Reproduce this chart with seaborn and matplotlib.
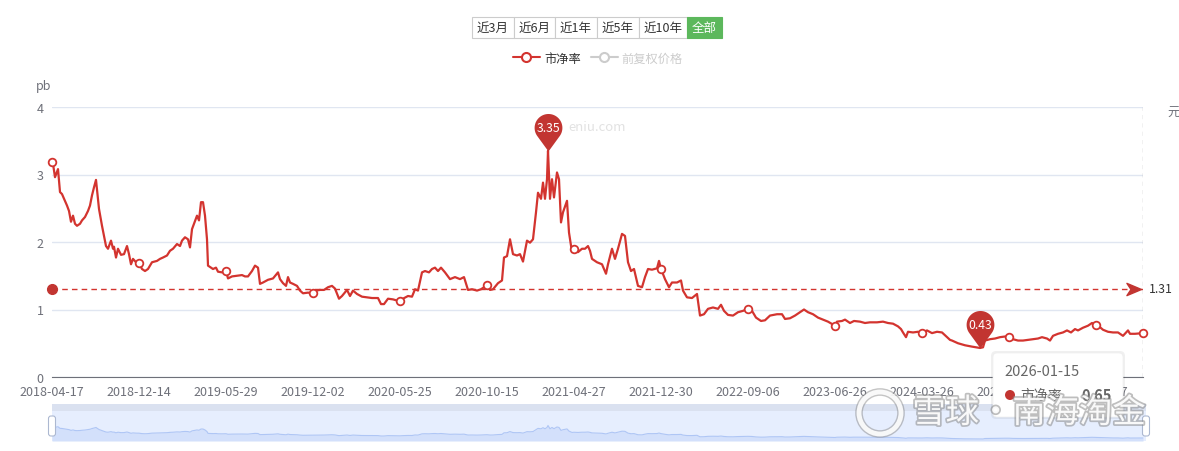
import numpy as np
import matplotlib
matplotlib.use("Agg")
import matplotlib.pyplot as plt
import matplotlib.patheffects as pe
from matplotlib.path import Path
from matplotlib.patches import FancyBboxPatch, Rectangle, Circle
from matplotlib.lines import Line2D
import seaborn as sns

# ---- data (trading-day index, PB) ----
day_idx = [0, 1, 3, 5, 6, 8, 10, 13, 15, 17, 19, 21, 23, 25, 28, 30, 33, 36, 38, 40, 42, 44, 46, 47, 50,
           52, 54, 56, 59, 61, 62, 64, 66, 69, 72, 75, 77, 79, 81, 84, 87, 90, 93, 96, 100, 105, 108, 111,
           115, 118, 121, 125, 128, 130, 133, 136, 138, 140, 142, 145, 147, 149, 151, 153, 155, 156, 159,
           161, 164, 166, 170, 174, 176, 180, 185, 190, 193, 196, 200, 203, 206, 208, 211, 216, 221, 226,
           228, 231, 234, 236, 238, 241, 245, 248, 251, 256, 261, 264, 268, 272, 276, 280, 283, 287, 290,
           295, 298, 301, 305, 310, 315, 320, 326, 329, 332, 336, 341, 348, 351, 356, 360, 363, 366, 370,
           373, 377, 380, 383, 386, 389, 393, 398, 403, 408, 412, 416, 420, 425, 429, 435, 438, 441, 446,
           450, 452, 455, 458, 461, 465, 468, 471, 475, 478, 481, 484, 486, 489, 491, 493, 495, 496, 498,
           500, 502, 505, 507, 509, 511, 515, 517, 520, 522, 526, 530, 533, 536, 538, 540, 545, 550, 554,
           556, 560, 563, 566, 570, 573, 576, 579, 582, 586, 590, 593, 596, 600, 605, 607, 609, 613, 617,
           620, 625, 629, 631, 635, 640, 645, 648, 652, 656, 661, 666, 669, 672, 676, 681, 686, 691, 696,
           700, 704, 709, 713, 718, 725, 730, 733, 738, 743, 748, 752, 756, 761, 766, 771, 776, 783, 785,
           790, 793, 798, 802, 808, 813, 818, 825, 831, 836, 841, 846, 849, 851, 854, 856, 861, 866, 870,
           875, 880, 885, 890, 895, 898, 900, 906, 913, 920, 928, 931, 933, 938, 943, 948, 953, 957, 961,
           966, 971, 976, 981, 986, 990, 995, 998, 1001, 1006, 1011, 1015, 1019, 1023, 1026, 1031, 1036,
           1040, 1044, 1047, 1051, 1056, 1061, 1066, 1071, 1076, 1078, 1083, 1091]
pb = [3.18, 3.16, 2.96, 3.04, 3.08, 2.74, 2.71, 2.61, 2.54, 2.46, 2.30, 2.39, 2.27, 2.24, 2.27, 2.32, 2.37,
      2.46, 2.54, 2.69, 2.81, 2.92, 2.64, 2.49, 2.24, 2.09, 1.94, 1.90, 2.02, 1.90, 1.93, 1.77, 1.90, 1.81,
      1.82, 1.94, 1.82, 1.67, 1.75, 1.70, 1.69, 1.60, 1.57, 1.60, 1.70, 1.72, 1.75, 1.77, 1.80, 1.87, 1.90,
      1.97, 1.94, 2.02, 2.07, 2.04, 1.92, 2.19, 2.27, 2.39, 2.32, 2.59, 2.59, 2.39, 2.04, 1.65, 1.62, 1.60,
      1.62, 1.56, 1.55, 1.57, 1.46, 1.49, 1.50, 1.51, 1.49, 1.49, 1.57, 1.65, 1.62, 1.38, 1.40, 1.44, 1.46,
      1.55, 1.45, 1.39, 1.35, 1.48, 1.40, 1.38, 1.35, 1.28, 1.24, 1.25, 1.24, 1.28, 1.29, 1.29, 1.33, 1.35,
      1.31, 1.16, 1.20, 1.29, 1.20, 1.28, 1.23, 1.19, 1.18, 1.17, 1.17, 1.08, 1.08, 1.16, 1.15, 1.12, 1.16,
      1.20, 1.19, 1.30, 1.28, 1.55, 1.57, 1.55, 1.60, 1.62, 1.57, 1.62, 1.55, 1.45, 1.48, 1.45, 1.48, 1.29,
      1.30, 1.28, 1.30, 1.36, 1.29, 1.30, 1.39, 1.43, 1.77, 1.79, 2.04, 1.82, 1.80, 1.82, 1.71, 2.02, 1.99,
      2.04, 2.44, 2.73, 2.64, 2.88, 2.64, 2.93, 3.35, 2.64, 2.93, 2.66, 3.03, 2.93, 2.29, 2.44, 2.61, 2.14,
      1.85, 1.89, 1.85, 1.90, 1.90, 1.94, 1.87, 1.75, 1.70, 1.67, 1.53, 1.67, 1.90, 1.75, 1.90, 2.12, 2.09,
      1.70, 1.57, 1.60, 1.35, 1.33, 1.48, 1.60, 1.59, 1.61, 1.72, 1.60, 1.45, 1.33, 1.40, 1.40, 1.43, 1.28,
      1.18, 1.17, 1.23, 0.91, 0.93, 1.01, 1.03, 1.01, 1.07, 0.98, 0.92, 0.91, 0.96, 0.98, 1.01, 0.98, 0.88,
      0.83, 0.84, 0.91, 0.93, 0.93, 0.86, 0.87, 0.91, 0.96, 1.00, 0.96, 0.93, 0.88, 0.85, 0.82, 0.76, 0.82,
      0.83, 0.85, 0.80, 0.83, 0.82, 0.80, 0.81, 0.81, 0.82, 0.80, 0.79, 0.75, 0.71, 0.66, 0.59, 0.67, 0.66,
      0.67, 0.65, 0.69, 0.65, 0.67, 0.66, 0.59, 0.55, 0.54, 0.50, 0.47, 0.45, 0.43, 0.44, 0.54, 0.56, 0.57,
      0.59, 0.60, 0.60, 0.56, 0.54, 0.54, 0.55, 0.56, 0.57, 0.59, 0.57, 0.54, 0.61, 0.64, 0.66, 0.69, 0.66,
      0.71, 0.69, 0.73, 0.76, 0.80, 0.77, 0.75, 0.70, 0.67, 0.66, 0.66, 0.61, 0.69, 0.64, 0.64, 0.65]

tick_step = 87
tick_labels = ["2018-04-17", "2018-12-14", "2019-05-29", "2019-12-02", "2020-05-25", "2020-10-15",
               "2021-04-27", "2021-12-30", "2022-09-06", "2023-06-26", "2024-03-26", "2024-12-10",
               "2025-08-27"]
avg_pb = 1.31
last_date = "2026-01-15"
range_buttons = ["近3月", "近6月", "近1年", "近5年", "近10年", "全部"]
legend_names = ["市净率", "前复权价格"]

# ---- style ----
sns.set_style("white")
plt.rcParams["font.family"] = ["Noto Sans CJK SC", "DejaVu Sans"]

W, H = 1179, 452
line_c = "#D3342F"
pin_c = "#C23531"
axis_c = "#6E7079"

fig = plt.figure(figsize=(W / 100, H / 100), dpi=100)
inch = fig.dpi_scale_trans


def P(px, py):
    return px / 100, (H - py) / 100


ax = fig.add_axes([52 / W, 1 - 378 / H, 1091 / W, 270 / H])
sns.lineplot(x=day_idx, y=pb, ax=ax, color=line_c, lw=1.6, zorder=3)

ax.set_xlim(0, day_idx[-1])
ax.set_ylim(0, 4)
ax.set_yticks([0, 1, 2, 3, 4])
ax.set_xticks(range(0, day_idx[-1], tick_step))
ax.set_xticklabels(tick_labels)
ax.set_xlabel("")
ax.set_ylabel("")
ax.yaxis.grid(True, color="#E0E6F1", lw=1)
for s in ["left", "top", "right"]:
    ax.spines[s].set_visible(False)
ax.spines["bottom"].set_color(axis_c)
ax.tick_params(axis="y", length=0, pad=6, labelcolor=axis_c, labelsize=9)
ax.tick_params(axis="x", length=3.6, width=1, color=axis_c, pad=2, labelcolor=axis_c, labelsize=9)

# hollow symbols at label interval
pb_at = dict(zip(day_idx, pb))
mk = [d for d in day_idx if d % tick_step == 0] + [day_idx[-1]]
ax.plot(mk, [pb_at[d] for d in mk], ls="none", marker="o", ms=5.5, mfc="white", mec=line_c, mew=1.3,
        zorder=4, clip_on=False)

# average mark line
ax.plot([0, day_idx[-1]], [avg_pb, avg_pb], color=line_c, lw=1, ls=(0, (4, 3)), zorder=2)
ax.plot(0, avg_pb, "o", ms=7, color=pin_c, clip_on=False, zorder=4)
arrow = Path([(0, 0), (-1, 0.42), (-0.72, 0), (-1, -0.42), (0, 0)],
             [Path.MOVETO, Path.LINETO, Path.LINETO, Path.LINETO, Path.CLOSEPOLY])
ax.plot(day_idx[-1] - 2, avg_pb, marker=arrow, ms=21, color=pin_c, clip_on=False, zorder=4)
ax.annotate(f"{avg_pb:.2f}", xy=(day_idx[-1], avg_pb), xytext=(4.5, 0), textcoords="offset points",
            ha="left", va="center", color="#333333", fontsize=8.8, annotation_clip=False)

# axis pointer
ax.axvline(day_idx[-1], color="#BBBBBB", lw=1, ls=(0, (3, 3)), zorder=1)

# pins for max / min
ang = np.radians(np.linspace(-36, 216, 60))
pin_verts = [(0, 0)] + list(zip(np.cos(ang), 1.7 + np.sin(ang))) + [(0, 0)]
pin_codes = [Path.MOVETO] + [Path.LINETO] * 60 + [Path.CLOSEPOLY]
pin = Path(pin_verts, pin_codes)
for i in [int(np.argmax(pb)), int(np.argmin(pb))]:
    ax.plot(day_idx[i], pb[i], marker=pin, ms=54, color=pin_c, zorder=6, clip_on=False, mew=0)
    ax.annotate(f"{pb[i]:.2f}", xy=(day_idx[i], pb[i]), xytext=(0, 17), textcoords="offset points",
                ha="center", va="center", color="white", fontsize=8.8, zorder=7)

# axis names / watermark
fig.text(*P(44, 87), "pb", transform=inch, ha="center", va="center", color=axis_c, fontsize=9)
fig.text(*P(1174, 113), "元", transform=inch, ha="center", va="center", color=axis_c, fontsize=9)
fig.text(*P(568, 128), "eniu.com", transform=inch, ha="left", va="center", color="#E2E2E2", fontsize=9.5)

# range buttons
edges = [472, 514, 555, 597, 639, 687, 722]
for k, name in enumerate(range_buttons):
    sel = k == len(range_buttons) - 1
    x0, y0 = P(edges[k], 39)
    fig.patches.append(Rectangle((x0, y0), (edges[k + 1] - edges[k]) / 100, 0.21, transform=inch,
                                 fc="#5CB85C" if sel else "white", ec="#5CB85C" if sel else "#CCCCCC",
                                 lw=0.8, zorder=2))
    fig.text(*P((edges[k] + edges[k + 1]) / 2, 28.5), name, transform=inch, ha="center", va="center",
             color="white" if sel else "#333333", fontsize=9, zorder=3)

# legend
handles = [Line2D([], [], color=line_c, lw=1.5, marker="o", ms=6.5, mfc="white", mec=line_c, mew=1.5),
           Line2D([], [], color="#CCCCCC", lw=1.5, marker="o", ms=6.5, mfc="white", mec="#CCCCCC", mew=1.5)]
leg = fig.legend(handles, legend_names, loc="center", bbox_to_anchor=(598 / W, 1 - 59 / H), ncol=2,
                 frameon=False, fontsize=8.8, handlelength=2.2, handletextpad=0.35, columnspacing=0.8)
leg.get_texts()[0].set_color("#333333")
leg.get_texts()[1].set_color("#CCCCCC")

# data zoom slider
sa = fig.add_axes([52 / W, 1 - 442 / H, 1094 / W, 37 / H])
sa.set_xlim(0, day_idx[-1] * 1094 / 1091)
sa.set_ylim(0, 8)
sa.axhspan(0, 8 * 30 / 37, color="#E6EEFE", lw=0)
sa.axhspan(8 * 30 / 37, 8, color="#DAE1F0", lw=0)
sa.fill_between(day_idx, pb, color="#D3E0FB", lw=0)
sa.plot(day_idx, pb, color="#AFC6F5", lw=0.8)
sa.axis("off")
for hx in [52, 1146]:
    fig.patches.append(FancyBboxPatch(P(hx - 3.5, 437), 0.07, 0.20, transform=inch,
                                      boxstyle="round,pad=0,rounding_size=0.025", fc="white",
                                      ec="#ACB8D1", lw=0.8, zorder=4))

# tooltip
fig.patches.append(FancyBboxPatch(P(991, 420), 1.34, 0.68, transform=inch,
                                  boxstyle="round,pad=0,rounding_size=0.05", fc="#000000", alpha=0.06,
                                  lw=0, zorder=5))
fig.patches.append(FancyBboxPatch(P(993, 418), 1.30, 0.64, transform=inch,
                                  boxstyle="round,pad=0,rounding_size=0.04", fc="white", ec="#EEEEEE",
                                  lw=0.5, zorder=5))
fig.text(*P(1004, 372), last_date, transform=inch, ha="left", va="center", color="#666666",
         fontsize=10.5, zorder=6)
fig.patches.append(Circle(P(1010, 396), 0.05, transform=inch, fc=pin_c, lw=0, zorder=6))
fig.text(*P(1020, 396), legend_names[0], transform=inch, ha="left", va="center", color="#666666",
         fontsize=10, zorder=6)
fig.text(*P(1112, 396), f"{pb[-1]:.2f}", transform=inch, ha="right", va="center", color="#666666",
         fontsize=10.5, fontweight="bold", zorder=6)

# xueqiu watermark
wm_fx = [pe.withStroke(linewidth=2.5, foreground="#8a8a8a", alpha=0.55)]
fig.text(*P(1146, 414), "雪球·南海淘金", transform=inch, ha="right", va="center", color="white",
         fontsize=24, alpha=0.92, path_effects=wm_fx, zorder=10)
ring = Circle(P(880, 414), 0.21, transform=inch, fc="none", ec="white", lw=3.5, alpha=0.9, zorder=10,
              path_effects=[pe.withStroke(linewidth=5.5, foreground="#8a8a8a", alpha=0.5)])
fig.patches.append(ring)

fig.savefig("out.png", dpi=100)
